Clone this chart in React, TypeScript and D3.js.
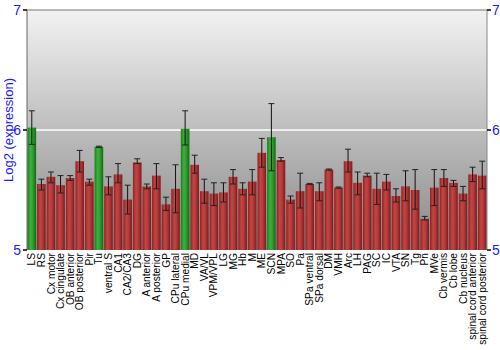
import React from "react";
import * as d3 from "d3";

const regions = [
  "LS", "RS", "Cx motor", "Cx cingulate", "OB anterior", "OB posterior", "Pir", "Tu",
  "ventral S", "CA1", "CA2/CA3", "DG", "A anterior", "A posterior", "GP", "CPu lateral",
  "CPu medial", "MD", "VA/VL", "VPM/VPL", "LG", "MG", "Hb", "M", "ME", "SCN", "MPA", "SO",
  "Pa", "SPa ventral", "SPa dorsal", "DM", "VMH", "Arc", "LH", "PAG", "SC", "IC", "VTA",
  "SN", "Tg", "Pn", "MVe", "Cb vermis", "Cb lobe", "Cb nucleus", "spinal cord anterior",
  "spinal cord posterior",
];

const means = [
  6.02, 5.55, 5.61, 5.54, 5.6, 5.74, 5.57, 5.86,
  5.53, 5.63, 5.42, 5.73, 5.53, 5.62, 5.38, 5.51,
  6.01, 5.71, 5.49, 5.47, 5.48, 5.61, 5.51, 5.57, 5.81, 5.94, 5.75, 5.42,
  5.49, 5.55, 5.49, 5.67, 5.52, 5.74, 5.56, 5.62, 5.51, 5.57, 5.45,
  5.53, 5.5, 5.26, 5.52, 5.6, 5.56, 5.47, 5.63,
  5.62,
];

const errLow = [
  5.88, 5.5, 5.56, 5.475, 5.58, 5.65, 5.54, 5.855,
  5.46, 5.56, 5.3, 5.72, 5.51, 5.51, 5.33, 5.31,
  5.875, 5.64, 5.39, 5.37, 5.4, 5.55, 5.46, 5.46, 5.69, 5.66, 5.74, 5.39,
  5.35, 5.545, 5.41, 5.665, 5.515, 5.65, 5.46, 5.61, 5.38, 5.5, 5.4,
  5.41, 5.34, 5.25, 5.37, 5.53, 5.53, 5.41, 5.57,
  5.51,
];

const errHigh = [
  6.16, 5.59, 5.65, 5.62, 5.62, 5.83, 5.59, 5.865,
  5.61, 5.72, 5.54, 5.76, 5.55, 5.72, 5.44, 5.71,
  6.16, 5.79, 5.59, 5.56, 5.56, 5.67, 5.56, 5.67, 5.93, 6.22, 5.77, 5.45,
  5.64, 5.555, 5.56, 5.675, 5.525, 5.84, 5.65, 5.64, 5.64, 5.63, 5.51,
  5.66, 5.67, 5.28, 5.67, 5.67, 5.58, 5.53, 5.69,
  5.74,
];

const highlighted = ["LS", "Tu", "CPu medial", "SCN"];
const yTicks = [5, 6, 7];

const W = 500;
const H = 350;
const left = 27;
const right = 487;
const top = 10;
const bottom = 250;
const blue = "#1a1aff";

export default function App() {
  const x = d3.scaleBand<string>().domain(regions).range([left, right]).paddingInner(0.1).paddingOuter(0.05);
  const y = d3.scaleLinear().domain([5, 7]).range([bottom, top]);
  const bw = x.bandwidth();

  return (
    <svg width={W} height={H} style={{ position: "absolute", left: 0, top: 0, fontFamily: "Liberation Sans, Arial, sans-serif" }}>
      <defs>
        <linearGradient id="bg" x1="0" y1="0" x2="0" y2="1">
          <stop offset="0" stopColor="#f2f2f2" />
          <stop offset="1" stopColor="#888888" />
        </linearGradient>
        <linearGradient id="red" x1="0" y1="0" x2="1" y2="0">
          <stop offset="0" stopColor="#8c2222" />
          <stop offset="0.35" stopColor="#c44444" />
          <stop offset="0.6" stopColor="#b83a3a" />
          <stop offset="1" stopColor="#7a1c1c" />
        </linearGradient>
        <linearGradient id="green" x1="0" y1="0" x2="1" y2="0">
          <stop offset="0" stopColor="#1d7d1d" />
          <stop offset="0.35" stopColor="#3cb03c" />
          <stop offset="0.6" stopColor="#30a030" />
          <stop offset="1" stopColor="#156815" />
        </linearGradient>
      </defs>
      <rect x={left} y={top} width={right - left} height={bottom - top} fill="url(#bg)" />
      <line x1={left} x2={right} y1={y(6)} y2={y(6)} stroke="#ffffff" strokeWidth={1.5} />
      {regions.map((r, i) => {
        const bx = x(r)!;
        const cx = bx + bw / 2;
        return (
          <g key={r}>
            <rect
              x={bx}
              y={y(means[i])}
              width={bw}
              height={y(5) - y(means[i])}
              fill={highlighted.includes(r) ? "url(#green)" : "url(#red)"}
            />
            <line x1={cx} x2={cx} y1={y(errHigh[i])} y2={y(errLow[i])} stroke="#111" strokeWidth={1} />
            <line x1={cx - 3} x2={cx + 3} y1={y(errHigh[i])} y2={y(errHigh[i])} stroke="#222" strokeWidth={1} />
            <line x1={cx - 3} x2={cx + 3} y1={y(errLow[i])} y2={y(errLow[i])} stroke="#222" strokeWidth={1} />
            <text
              transform={`translate(${cx},${bottom + 3}) rotate(-90)`}
              textAnchor="end"
              dy="0.35em"
              fontSize={10.2}
              fill="#000"
            >
              {r}
            </text>
          </g>
        );
      })}
      <line x1={left} x2={right} y1={top} y2={top} stroke="#777" />
      <line x1={left} x2={left} y1={top} y2={bottom} stroke="#666" />
      <line x1={right} x2={right} y1={top} y2={bottom} stroke="#888" />
      {yTicks.map((t) => (
        <g key={t}>
          <line x1={left - 4} x2={left} y1={y(t)} y2={y(t)} stroke="#000" strokeWidth={1.5} />
          <line x1={right} x2={right + 4} y1={y(t)} y2={y(t)} stroke="#000" strokeWidth={1.5} />
          <text x={left - 6} y={y(t)} dy="0.35em" textAnchor="end" fontSize={14} fill={blue}>
            {t}
          </text>
          <text x={right + 5} y={y(t)} dy="0.35em" textAnchor="start" fontSize={14} fill={blue}>
            {t}
          </text>
        </g>
      ))}
      <text
        transform={`translate(13,${y(6)}) rotate(-90)`}
        textAnchor="middle"
        fontSize={13}
        fill={blue}
      >
        Log2 (expression)
      </text>
    </svg>
  );
}
